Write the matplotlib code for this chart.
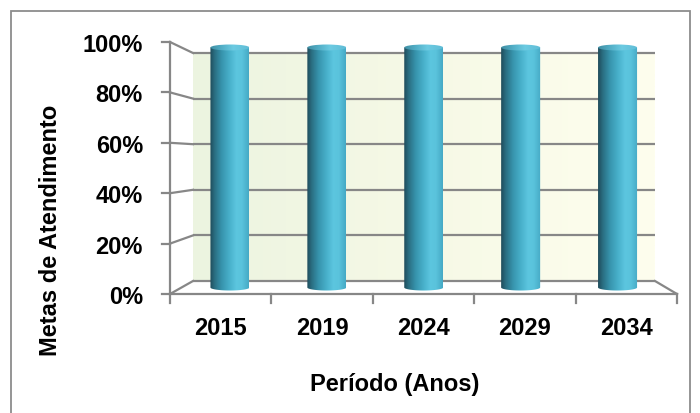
import numpy as np
import matplotlib
matplotlib.use("Agg")
import matplotlib.pyplot as plt
from matplotlib.patches import Ellipse, PathPatch, Rectangle
from matplotlib.path import Path
from matplotlib.colors import LinearSegmentedColormap

# ---- data ----
categories = ["2015", "2019", "2024", "2029", "2034"]
values = [100, 100, 100, 100, 100]
ytick_values = [0, 20, 40, 60, 80, 100]
ytick_labels = ["0%", "20%", "40%", "60%", "80%", "100%"]
xlabel = "Período (Anos)"
ylabel = "Metas de Atendimento"

FONT = dict(family=["Liberation Sans", "DejaVu Sans"], weight="bold")
FS = 17

W, H = 700, 414
fig = plt.figure(figsize=(W / 100, H / 100), dpi=100)
fig.patch.set_facecolor("white")

# front plane in pixels
fx0, fx1 = 170, 677
fy0, fy1 = 295, 43  # y of 0% and 100% (from top)
ax = fig.add_axes([fx0 / W, 1 - fy0 / H, (fx1 - fx0) / W, (fy0 - fy1) / H])
n = len(categories)
ax.set_xlim(0, n)
ax.set_ylim(0, 100)
for s in ax.spines.values():
    s.set_visible(False)
ax.set_facecolor("none")

pxx = (fx1 - fx0) / n          # px per category unit
pxy = (fy0 - fy1) / 100.0      # px per percent

# back wall mapping (pixels 193..655, 282..54)
bx0 = (193 - fx0) / pxx
bx1 = (655 - fx0) / pxx
by0 = (fy0 - 282) / pxy
by1 = (fy0 - 54) / pxy
def yb(v):
    return by0 + v * (by1 - by0) / 100.0

# mid-depth mapping for the cylinders
mx0, mx1 = bx0 / 2, (n + bx1) / 2
my0, my1 = by0 / 2, (100 + by1) / 2
def xm(c):
    return mx0 + c * (mx1 - mx0) / n
def ym(v):
    return my0 + v * (my1 - my0) / 100.0

grid_c = "#878787"
glw = 1.6

# back wall gradient
wall = np.linspace(0, 1, 256).reshape(1, -1)
wall_cmap = LinearSegmentedColormap.from_list("wall", ["#ecf4e0", "#f6f9e6", "#fefeee"])
ax.imshow(wall, cmap=wall_cmap, extent=(bx0, bx1, by0, by1), aspect="auto",
          interpolation="bilinear", zorder=0)

# grid lines (back wall and side wall) + left ticks
for v in ytick_values:
    ax.plot([bx0, bx1], [yb(v), yb(v)], color=grid_c, lw=glw, zorder=1, solid_capstyle="butt")
    ax.plot([0, bx0], [v, yb(v)], color=grid_c, lw=glw, zorder=1, clip_on=False)
    ax.plot([-8 / pxx, 0], [v, v], color=grid_c, lw=glw, zorder=1, clip_on=False)

# floor edges
ax.plot([0, n], [0, 0], color=grid_c, lw=glw, zorder=1, clip_on=False)
ax.plot([n, bx1], [0, yb(0)], color=grid_c, lw=glw, zorder=1, clip_on=False)
ax.plot([0, 0], [0, 100], color=grid_c, lw=glw, zorder=1, clip_on=False)
for i in range(n + 1):
    ax.plot([i, i], [0, -9 / pxy], color=grid_c, lw=glw, zorder=1, clip_on=False)

# cylinders
cyl_cmap = LinearSegmentedColormap.from_list(
    "cyl", [(0.0, "#1f4b5a"), (0.12, "#2a6e82"), (0.3, "#3794ad"), (0.5, "#48b0ca"),
            (0.68, "#5cc6df"), (0.82, "#5ac3dc"), (1.0, "#45a9c5")])
top_cmap = LinearSegmentedColormap.from_list(
    "top", [(0.0, "#3f8ea3"), (0.3, "#52aec6"), (0.6, "#6ccbe2"), (1.0, "#60bcd6")])
bw = 39 / pxx
eh = 6 / pxy
grad = np.linspace(0, 1, 256).reshape(1, -1)
for i, v in enumerate(values):
    cx = xm(i + 0.5)
    x0, x1 = cx - bw / 2, cx + bw / 2
    y0, y1 = ym(0), ym(v)
    t = np.linspace(np.pi, 2 * np.pi, 40)
    bottom = np.column_stack([cx + bw / 2 * np.cos(t), y0 + eh / 2 * np.sin(t)])
    verts = [(x0, y1)] + [tuple(p) for p in bottom] + [(x1, y1), (x0, y1)]
    body = PathPatch(Path(verts), transform=ax.transData, facecolor="none", edgecolor="none")
    ax.add_patch(body)
    img = ax.imshow(grad, cmap=cyl_cmap, extent=(x0, x1, y0 - eh, y1), aspect="auto",
                    interpolation="bilinear", zorder=3)
    img.set_clip_path(body)
    top = Ellipse((cx, y1), bw, eh, transform=ax.transData, facecolor="none", edgecolor="none")
    ax.add_patch(top)
    timg = ax.imshow(grad, cmap=top_cmap, extent=(x0, x1, y1 - eh, y1 + eh), aspect="auto",
                     interpolation="bilinear", zorder=4)
    timg.set_clip_path(top)

ax.set_xlim(0, n)
ax.set_ylim(0, 100)

# tick labels
ax.set_yticks(ytick_values)
ax.set_yticklabels(ytick_labels, fontsize=FS, **FONT)
ax.set_xticks(np.arange(n) + 0.5)
ax.set_xticklabels(categories, fontsize=FS, **FONT)
ax.tick_params(axis="y", length=0, pad=27 * 0.72)
ax.tick_params(axis="x", length=0, pad=22 * 0.72)

fig.text(395 / W, 1 - 385 / H, xlabel, ha="center", va="center", fontsize=FS, **FONT)
fig.text(51 / W, 1 - 230 / H, ylabel, ha="center", va="center", rotation=90, fontsize=FS, **FONT)

# chart border
fig.add_artist(Rectangle((11 / W, -0.02), (690 - 11) / W, 1.02 - 12 / H,
                         transform=fig.transFigure, facecolor="none",
                         edgecolor="#8c8c8c", lw=1.3))

fig.savefig("out.png", dpi=100)
